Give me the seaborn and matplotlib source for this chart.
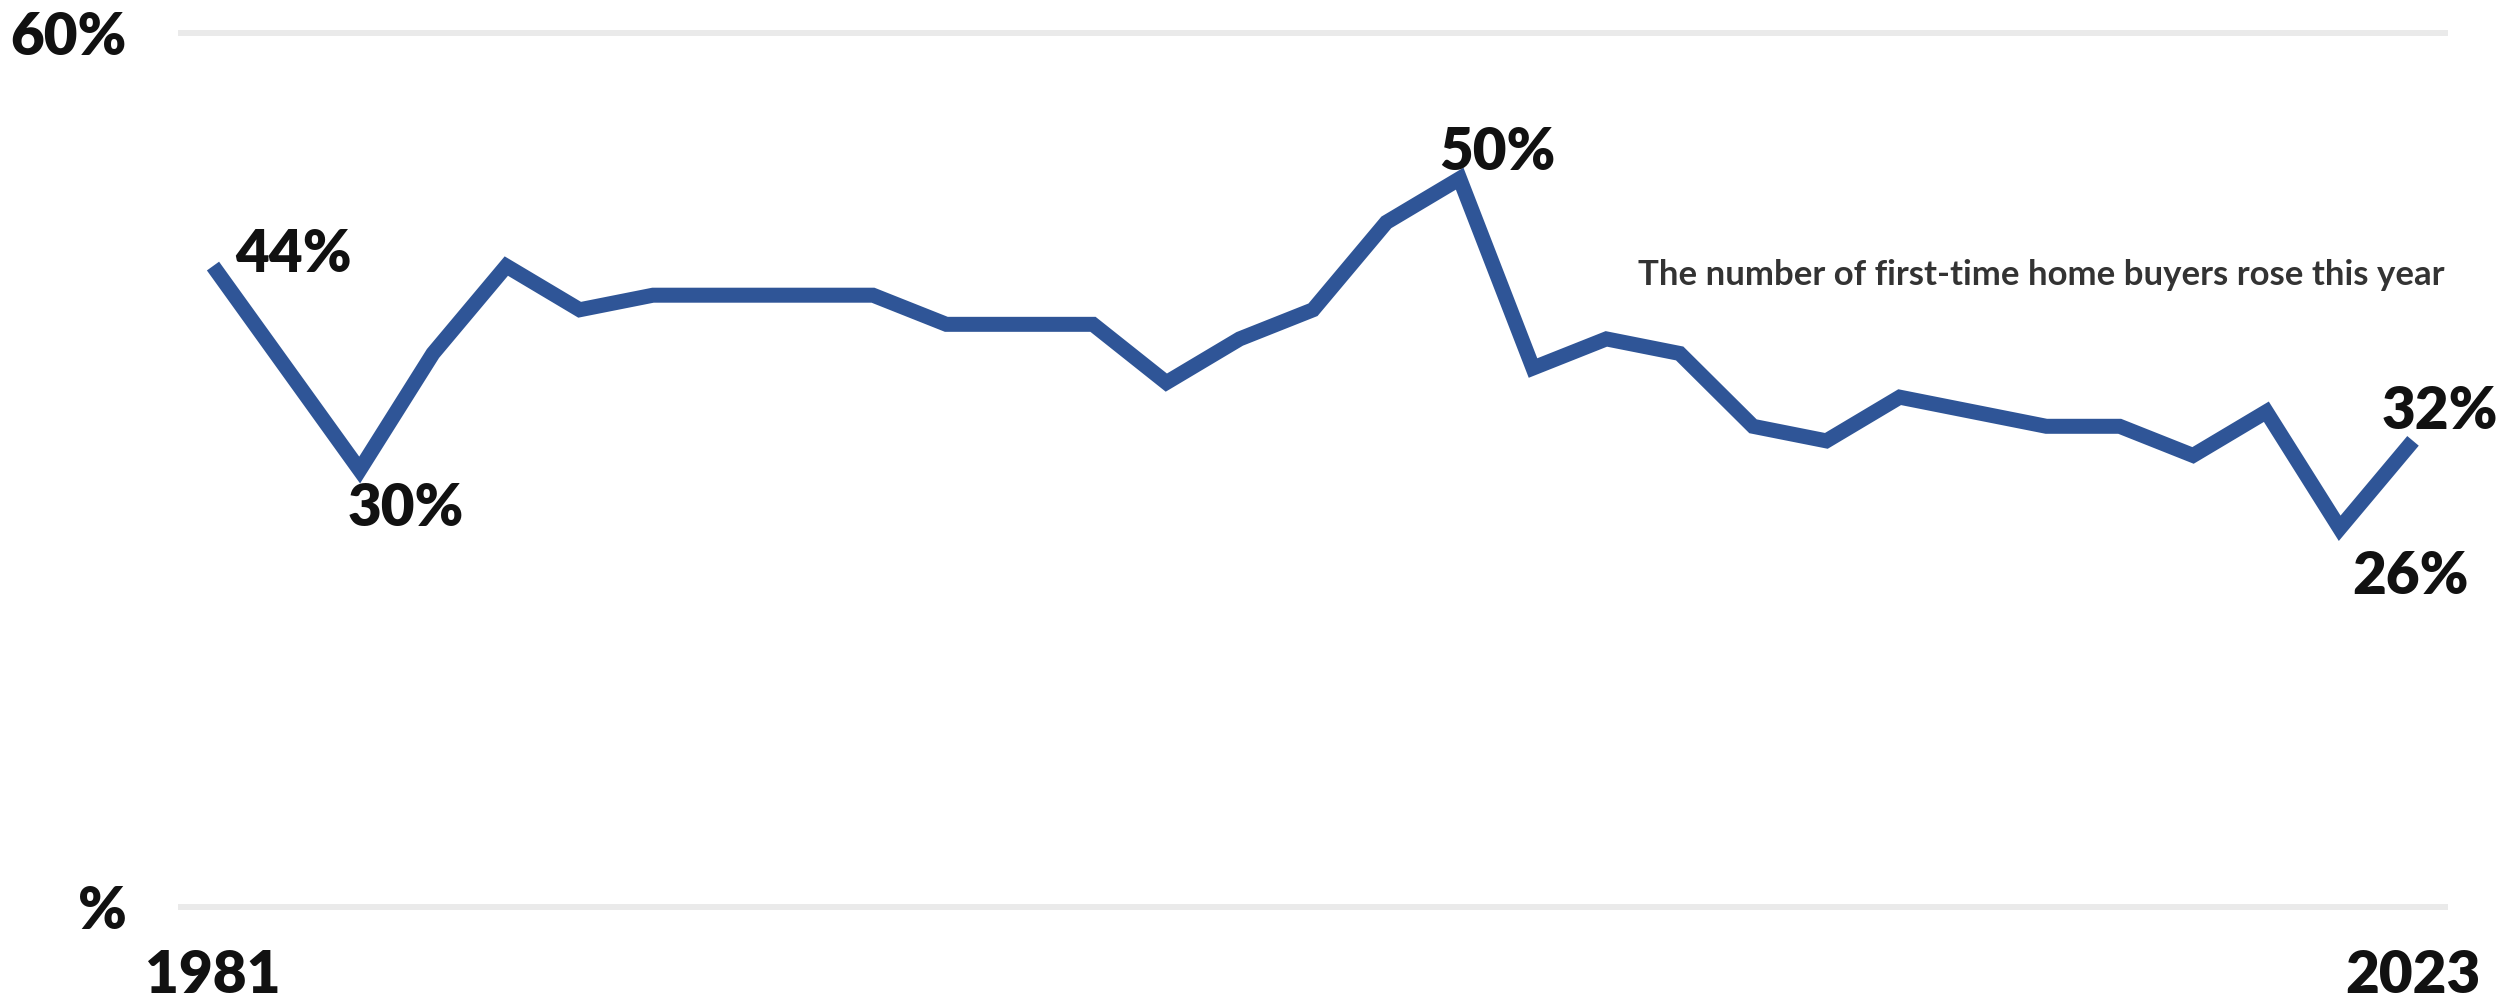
import matplotlib
matplotlib.use("Agg")
import matplotlib.pyplot as plt
import pandas as pd
import seaborn as sns

# Position of each survey along the axis (slot 1 has no survey) and the share of first-time buyers
survey_slot = [0, 2, 3, 4, 5, 6, 7, 8, 9, 10, 11, 12, 13, 14, 15,
               16, 17, 18, 19, 20, 21, 22, 23, 24, 25, 26, 27, 28, 29, 30]
first_time_share = [44, 30, 38, 44, 41, 42, 42, 42, 42, 40, 40, 40, 36, 39, 41,
                    47, 50, 37, 39, 38, 33, 32, 35, 34, 33, 33, 31, 34, 26, 32]

# Axis labels
year_tick_slots = [0, 30]
year_tick_labels = ["1981", "2023"]
share_ticks = [0, 60]
share_tick_labels = ["%", "60%"]

# Points that carry a value label
labelled_slots = [0, 2, 17, 29, 30]

note_text = "The number of first-time home buyers rose this year"

sns.set_theme(style="white")
plt.rcParams["font.family"] = ["Lato", "DejaVu Sans"]

LINE_BLUE = "#2F5597"
GRID_GREY = "#EAEAEA"

df = pd.DataFrame({"slot": survey_slot, "share": first_time_share})

fig = plt.figure(figsize=(24.96, 10.02), dpi=100)
W, H = 2496, 1002
ax = fig.add_axes([178 / W, (H - 907) / H, (2448 - 178) / W, 874 / H])

for y in share_ticks:
    ax.axhline(y, color=GRID_GREY, lw=4.3, zorder=0, clip_on=False,
               solid_capstyle="butt")

sns.lineplot(data=df, x="slot", y="share", ax=ax, color=LINE_BLUE, lw=10.8,
             solid_capstyle="butt", solid_joinstyle="miter", zorder=3)

ax.set_xlim(-0.477, 30.477)
ax.set_ylim(0, 60)
ax.set_xlabel("")
ax.set_ylabel("")
for s in ax.spines.values():
    s.set_visible(False)

label_font = dict(fontsize=42, fontweight="heavy", color="#111111")
ax.set_yticks(share_ticks)
ax.set_yticklabels(share_tick_labels, **label_font)
ax.set_xticks(year_tick_slots)
ax.set_xticklabels(year_tick_labels, **label_font)
ax.tick_params(axis="y", length=0, pad=37)
ax.tick_params(axis="x", length=0, pad=30)

# Offsets (in points) of each value label from its point
label_offsets = {0: (16, 8, "left"), 2: (33, -28, "center"), 17: (27, 19, "center"),
                 29: (51, -35, "center"), 30: (19, 21, "center")}
share_by_slot = dict(zip(survey_slot, first_time_share))
for slot in labelled_slots:
    dx, dy, ha = label_offsets[slot]
    ax.annotate(f"{share_by_slot[slot]}%", (slot, share_by_slot[slot]),
                xytext=(dx, dy), textcoords="offset points",
                ha=ha, va="center", zorder=4, **label_font)

# Note to the right of the peak, sized to span its column
note = fig.text(1638 / W, (H - 275) / H, note_text, ha="left", va="center",
                fontsize=24, fontweight="bold", color="#333333")
renderer = fig.canvas.get_renderer()
width_px = note.get_window_extent(renderer).width
note.set_fontsize(24 * 807 / width_px)

fig.savefig("out.png", dpi=100, facecolor="white")
